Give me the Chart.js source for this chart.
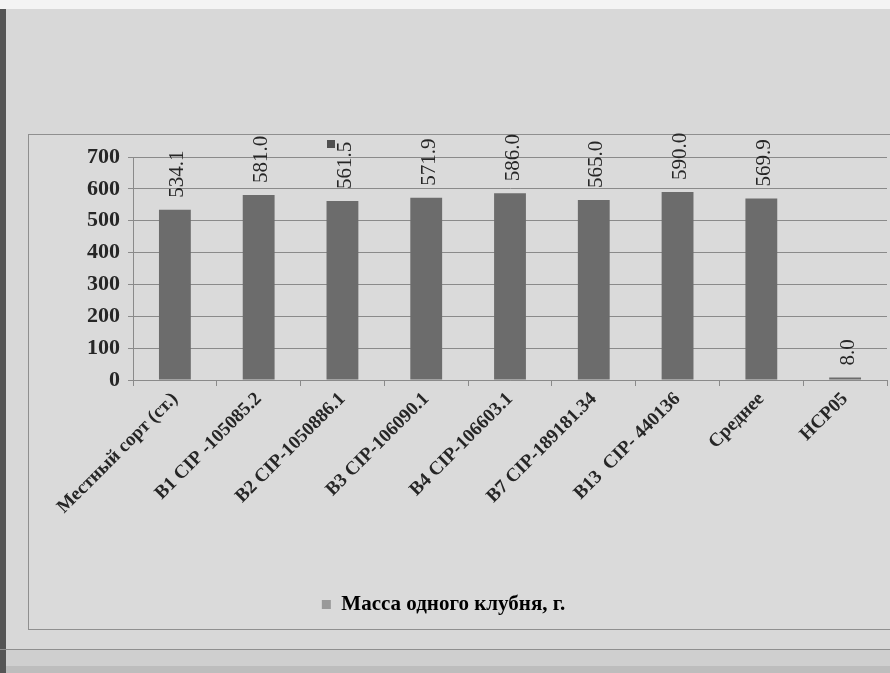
<!DOCTYPE html>
<html>
<head>
<meta charset="utf-8">
<script src="https://cdn.jsdelivr.net/npm/chart.js@4/dist/chart.umd.min.js"></script>
<style>
  html, body { margin: 0; padding: 0; }
  body { width: 890px; height: 673px; background: #d8d8d8; overflow: hidden; }
  #wrap { position: relative; width: 890px; height: 673px; }
  canvas { position: absolute; left: 0; top: 0; }
</style>
</head>
<body>
<div id="wrap"><canvas id="c" width="890" height="673"></canvas></div>
<script>
// Варианты опыта
const categories = [
  'Местный сорт (ст.)',
  'B1 CIP -105085.2',
  'B2 CIP-1050886.1',
  'B3 CIP-106090.1',
  'B4 CIP-106603.1',
  'B7 CIP-189181.34',
  'B13  CIP- 440136',
  'Среднее',
  'НСР05'
];
// Масса одного клубня, г.
const tuberMass = [534.1, 581.0, 561.5, 571.9, 586.0, 565.0, 590.0, 569.9, 8.0];
const seriesName = 'Масса одного клубня, г.';
const yTicks = [0, 100, 200, 300, 400, 500, 600, 700];

const serif = "'Liberation Serif', 'Times New Roman', 'DejaVu Serif', serif";
const textColor = '#262626';
const barColor = '#6c6c6c';

// Frame around the chart object and screen edges
const framePlugin = {
  id: 'frame',
  beforeDraw(chart) {
    const ctx = chart.ctx;
    ctx.save();
    ctx.fillStyle = '#f4f4f4';
    ctx.fillRect(0, 0, 890, 9);
    ctx.fillStyle = '#dadada';
    ctx.fillRect(28, 134, 862, 496);
    ctx.fillStyle = '#cfcfcf';
    ctx.fillRect(0, 650, 890, 23);
    ctx.fillStyle = '#bdbdbd';
    ctx.fillRect(0, 666, 890, 7);
    ctx.fillStyle = '#555';
    ctx.fillRect(0, 9, 6, 664);
    ctx.strokeStyle = '#8f8f8f';
    ctx.lineWidth = 1;
    ctx.strokeRect(28.5, 134.5, 870, 495);
    ctx.beginPath();
    ctx.moveTo(0, 649.5); ctx.lineTo(890, 649.5);
    ctx.stroke();
    ctx.restore();
  }
};

// Vertical value labels above the bars
const valueLabels = {
  id: 'valueLabels',
  afterDatasetsDraw(chart) {
    const ctx = chart.ctx;
    const meta = chart.getDatasetMeta(0);
    ctx.save();
    ctx.font = '21px ' + serif;
    ctx.fillStyle = textColor;
    ctx.textAlign = 'left';
    ctx.textBaseline = 'middle';
    meta.data.forEach((bar, i) => {
      const v = chart.data.datasets[0].data[i];
      ctx.save();
      ctx.translate(bar.x + 3, bar.y - 12);
      ctx.rotate(-Math.PI / 2);
      ctx.fillText(v.toFixed(1), 0, 0);
      ctx.restore();
    });
    // small stray legend key at the top of the plot
    ctx.fillStyle = '#505050';
    ctx.fillRect(327, 140, 8, 8);
    ctx.restore();
  }
};

new Chart(document.getElementById('c'), {
  type: 'bar',
  data: {
    labels: categories,
    datasets: [{
      label: seriesName,
      data: tuberMass,
      backgroundColor: barColor,
      borderWidth: 0,
      barPercentage: 0.38,
      categoryPercentage: 1.0
    }]
  },
  options: {
    responsive: false,
    animation: false,
    devicePixelRatio: 1,
    layout: { padding: { top: 157, right: 3, bottom: 48, left: 0 } },
    plugins: {
      tooltip: { enabled: false },
      legend: {
        position: 'bottom',
        labels: {
          color: textColor,
          font: { family: serif, size: 21, weight: 'bold' },
          boxWidth: 9,
          boxHeight: 9,
          padding: 12,
          generateLabels(chart) {
            return [{
              text: seriesName,
              fillStyle: '#999999',
              strokeStyle: '#999999',
              lineWidth: 0,
              datasetIndex: 0
            }];
          }
        }
      }
    },
    scales: {
      x: {
        afterFit(scale) { scale.height = 202; },
        grid: {
          offset: true,
          drawOnChartArea: false,
          drawTicks: true,
          tickLength: 6,
          color: '#8a8a8a'
        },
        border: { color: '#8a8a8a', width: 1 },
        ticks: {
          color: textColor,
          font: { family: serif, size: 19, weight: 'bold' },
          maxRotation: 45,
          minRotation: 45,
          autoSkip: false,
          padding: 2
        }
      },
      y: {
        min: 0,
        max: 700,
        afterFit(scale) { scale.width = 133; },
        afterBuildTicks(scale) { scale.ticks = yTicks.map(v => ({ value: v })); },
        grid: {
          color: '#8a8a8a',
          lineWidth: 1,
          drawTicks: true,
          tickLength: 5
        },
        border: { color: '#8a8a8a', width: 1 },
        ticks: {
          color: textColor,
          font: { family: serif, size: 22, weight: 'bold' },
          padding: 8
        }
      }
    }
  },
  plugins: [framePlugin, valueLabels]
});
</script>
</body>
</html>
